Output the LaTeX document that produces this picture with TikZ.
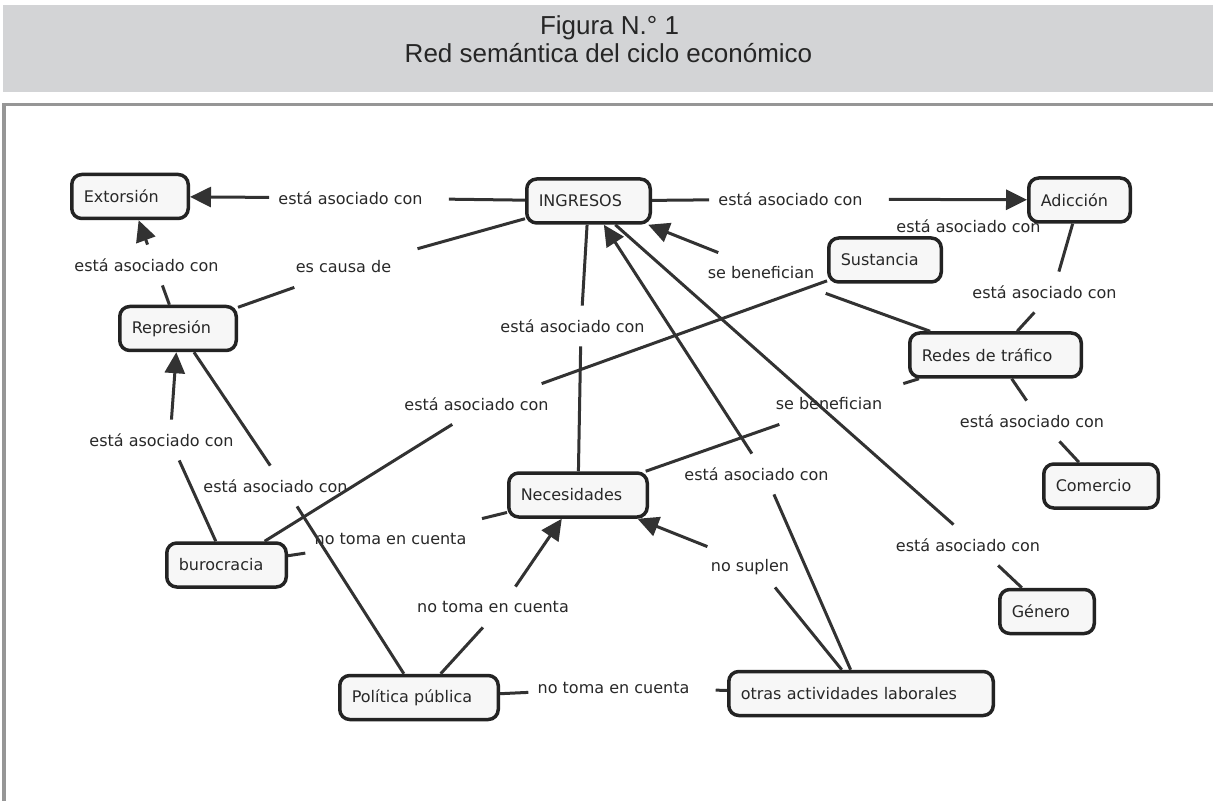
\documentclass[tikz,border=0pt]{standalone}
\usepackage{fontspec}
\usepackage{xcolor}
\usepackage{tikz}
\usetikzlibrary{arrows.meta}
\newfontfamily\cmapfont{DejaVu Sans}
\newfontfamily\headfont{Liberation Sans}
\definecolor{bandgray}{RGB}{211,212,214}
\definecolor{framegray}{RGB}{150,150,150}
\definecolor{boxline}{RGB}{35,35,35}
\definecolor{boxfill}{RGB}{247,247,247}
\definecolor{linkgray}{RGB}{50,50,50}
\definecolor{textgray}{RGB}{40,40,40}

\begin{document}
\begin{tikzpicture}[
    x=0.5pt, y=-0.5pt,
    concept/.style={draw=boxline, line width=1.75pt, rounded corners=5pt, fill=boxfill, minimum height=22pt, inner xsep=6pt, inner ysep=2pt, align=left, text=textgray, font=\cmapfont\fontsize{8}{9.6}\selectfont},
    phrase/.style={inner xsep=4.5pt, inner ysep=0pt, minimum height=20pt, text=textgray, font=\cmapfont\fontsize{8}{9.6}\selectfont, execute at end node={\hspace{8.5pt}}},
    headtext/.style={inner sep=0pt, text=black!85, font=\headfont\fontsize{13}{15.6}\selectfont},
    tie/.style={draw=linkgray, line width=1.5pt},
    towards/.style={tie, -{Triangle[length=10.5pt,width=10pt]}}
]
\useasboundingbox (0,0) rectangle (1213,801);

% Title band and frame
\fill[bandgray] (3,5) rectangle (1213,92);
\node[headtext, anchor=base] (figura) at (609.5,35) {Figura N.° 1};
\node[headtext, anchor=base] (titulo) at (608.5,63) {Red semántica del ciclo económico};
\draw[framegray, line width=1.6pt] (1213,104.5) -- (4,104.5) -- (4,801);

% Concepts
\node[concept, text width=46.25pt] (extorsion) at (130,196.5) {Extorsión};
\node[concept, text width=49.75pt] (ingresos) at (588.5,201) {INGRESOS};
\node[concept, text width=38.75pt] (adiccion) at (1079.5,200) {Adicción};
\node[concept, text width=44.25pt] (sustancia) at (885,260) {Sustancia};
\node[concept, text width=46.25pt] (represion) at (178,328.5) {Represión};
\node[concept, text width=73.75pt] (redes) at (995.5,355) {Redes de tráfico};
\node[concept, text width=45.25pt] (comercio) at (1101,486) {Comercio};
\node[concept, text width=57.25pt] (necesidades) at (578,495) {Necesidades};
\node[concept, text width=47.75pt] (burocracia) at (226.5,565) {burocracia};
\node[concept, text width=35.25pt] (genero) at (1047,611.5) {Género};
\node[concept, text width=67.25pt] (politica) at (419,697.5) {Política pública};
\node[concept, text width=120.25pt] (otras) at (861,693.5) {otras actividades laborales};

% Linking phrases
\node[phrase] (ingext) at (359,198) {está asociado con};
\node[phrase] (ingrep) at (352,267) {es causa de};
\node[phrase] (repext) at (155,265) {está asociado con};
\node[phrase] (ingadi) at (799,199) {está asociado con};
\node[phrase] (suelto) at (977,226) {está asociado con};
\node[phrase] (adired) at (1053,292) {está asociado con};
\node[phrase] (redben) at (769.5,273) {se benefician};
\node[phrase] (ingnec) at (581,326) {está asociado con};
\node[phrase] (bursus) at (485,404) {está asociado con};
\node[phrase] (burrep) at (170,440) {está asociado con};
\node[phrase] (reppol) at (284,486) {está asociado con};
\node[phrase] (necben) at (837.5,404) {se benefician};
\node[phrase] (otring) at (765,474) {está asociado con};
\node[phrase] (redcom) at (1040.5,421) {está asociado con};
\node[phrase] (inggen) at (976.5,545) {está asociado con};
\node[phrase] (burnec) at (399,539) {no toma en cuenta};
\node[phrase] (polnec) at (501.5,607) {no toma en cuenta};
\node[phrase] (otrnec) at (758.5,567) {no suplen};
\node[phrase] (polotr) at (622,688) {no toma en cuenta};

% Plain connectors
\foreach \a/\b in {ingresos/ingext, ingresos/ingrep, ingrep/represion, represion/repext,
    ingresos/ingadi, adiccion/adired, adired/redes, redes/redben, ingresos/ingnec,
    ingnec/necesidades, burocracia/bursus, bursus/sustancia, burocracia/burrep,
    represion/reppol, reppol/politica, necesidades/necben, necben/redes, otras/otring,
    redes/redcom, redcom/comercio, ingresos/inggen, inggen/genero, burocracia/burnec,
    burnec/necesidades, politica/polnec, otras/otrnec, politica/polotr, polotr/otras}
    \draw[tie] (\a) -- (\b);

% Arrows
\foreach \a/\b in {ingext/extorsion, repext/extorsion, ingadi/adiccion, redben/ingresos,
    burrep/represion, otring/ingresos, polnec/necesidades, otrnec/necesidades}
    \draw[towards] (\a) -- (\b);

\end{tikzpicture}
\end{document}
